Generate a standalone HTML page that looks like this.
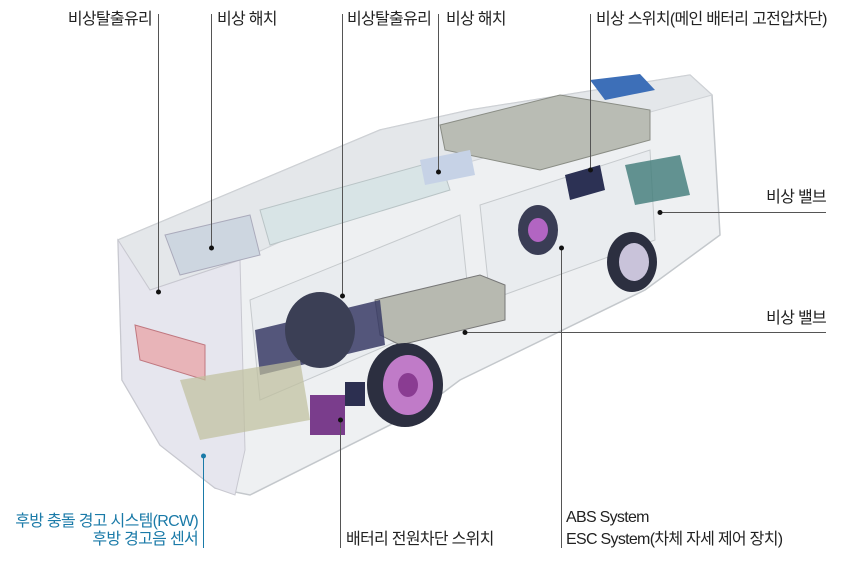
<!DOCTYPE html>
<html><head><meta charset="utf-8"><style>
html,body{margin:0;padding:0;background:#fff;}
#c{position:relative;width:850px;height:570px;overflow:hidden;font-family:"Liberation Sans","Noto Sans CJK KR",sans-serif;}
.t{position:absolute;font-size:16px;color:#222;white-space:nowrap;letter-spacing:-0.7px;line-height:18px;}
.b{color:#1a7aa8;}
</style></head><body><div id="c">
<svg width="850" height="570" style="position:absolute;left:0;top:0">
<polygon points="118,240 380,130 470,110 690,75 712,95 720,235 645,290 460,380 420,410 250,495 215,488 160,445 122,380" fill="#eef0f2" stroke="#c4c8cc" stroke-width="1.5"/>
<polygon points="118,240 380,130 470,110 690,75 712,95 440,170 240,260 150,290" fill="#e4e7ea" stroke="#cfd2d6"/>
<polygon points="118,240 150,290 240,260 245,450 235,495 215,488 160,445 122,380" fill="#e6e6ee" stroke="#c8c8d0"/>
<polygon points="250,300 460,215 470,310 260,400" fill="#e9ecef" stroke="#c6cacd"/>
<polygon points="480,205 650,150 655,240 490,300" fill="#e9ecef" stroke="#c6cacd"/>
<polygon points="440,125 560,95 650,110 650,140 540,170 445,150" fill="#b9bcb4" stroke="#8a8d85"/>
<polygon points="590,80 640,74 655,90 605,100" fill="#3d6fb8"/>
<polygon points="165,235 250,215 260,255 180,275" fill="#cdd6e0" stroke="#aab"/>
<polygon points="260,210 440,160 450,190 270,245" fill="#d8e4e6" stroke="#b9c4c6"/>
<polygon points="420,160 470,150 475,175 425,185" fill="#c6d2e6"/>
<polygon points="135,325 205,345 205,380 140,360" fill="#e8b4b8" stroke="#c07880"/>
<polygon points="375,300 480,275 505,285 505,320 400,345 380,335" fill="#b7b9b0" stroke="#777"/>
<polygon points="255,330 380,300 385,345 260,375" fill="#3a3c66" opacity="0.85"/>
<ellipse cx="320" cy="330" rx="35" ry="38" fill="#3b3f55"/>
<ellipse cx="405" cy="385" rx="38" ry="42" fill="#2c2f40"/>
<ellipse cx="408" cy="385" rx="25" ry="30" fill="#c07bc8"/>
<ellipse cx="408" cy="385" rx="10" ry="12" fill="#8a3c92"/>
<ellipse cx="632" cy="262" rx="25" ry="30" fill="#2c2f40"/>
<ellipse cx="634" cy="262" rx="15" ry="19" fill="#c9c3da"/>
<ellipse cx="538" cy="230" rx="20" ry="25" fill="#3a3d55"/>
<ellipse cx="538" cy="230" rx="10" ry="12" fill="#b265c2"/>
<polygon points="565,175 600,165 605,190 570,200" fill="#2c3154"/>
<polygon points="625,165 680,155 690,195 635,205" fill="#3f7b78" opacity="0.8"/>
<polygon points="180,380 300,360 310,420 200,440" fill="#bfbf9c" opacity="0.7"/>
<rect x="310" y="395" width="35" height="40" fill="#7a3d8c"/>
<rect x="345" y="382" width="20" height="24" fill="#2c2f50"/>
<g stroke="#555" stroke-width="1" fill="none">
<line x1="158.5" y1="14" x2="158.5" y2="292"/>
<line x1="211.5" y1="14" x2="211.5" y2="248"/>
<line x1="342.5" y1="14" x2="342.5" y2="296"/>
<line x1="438.5" y1="14" x2="438.5" y2="172"/>
<line x1="590.5" y1="14" x2="590.5" y2="170"/>
<line x1="660" y1="212.5" x2="826" y2="212.5"/>
<line x1="465" y1="332.5" x2="826" y2="332.5"/>
<line x1="340.5" y1="420" x2="340.5" y2="548"/>
<line x1="561.5" y1="248" x2="561.5" y2="548"/>
</g>
<line x1="203.5" y1="456" x2="203.5" y2="548" stroke="#1a7aa8"/>
<g fill="#111">
<circle cx="158.5" cy="292" r="2.5"/><circle cx="211.5" cy="248" r="2.5"/>
<circle cx="342.5" cy="296" r="2.5"/><circle cx="438.5" cy="172" r="2.5"/>
<circle cx="590.5" cy="170" r="2.5"/><circle cx="660" cy="212.5" r="2.5"/>
<circle cx="465" cy="332.5" r="2.5"/><circle cx="340.5" cy="420" r="2.5"/>
<circle cx="561.5" cy="248" r="2.5"/>
</g>
<circle cx="203.5" cy="456" r="2.5" fill="#1a7aa8"/>
</svg>
<div class="t" style="right:698px;top:11px">비상탈출유리</div>
<div class="t" style="left:217px;top:11px">비상 해치</div>
<div class="t" style="left:347px;top:11px">비상탈출유리</div>
<div class="t" style="left:446px;top:11px">비상 해치</div>
<div class="t" style="left:596px;top:11px">비상 스위치(메인 배터리 고전압차단)</div>
<div class="t" style="right:24px;top:189px">비상 밸브</div>
<div class="t" style="right:24px;top:310px">비상 밸브</div>
<div class="t b" style="right:652px;top:513px;text-align:right">후방 충돌 경고 시스템(RCW)</div>
<div class="t b" style="right:652px;top:531px;text-align:right">후방 경고음 센서</div>
<div class="t" style="left:346px;top:531px">배터리 전원차단 스위치</div>
<div class="t" style="left:566px;top:509px">ABS System</div>
<div class="t" style="left:566px;top:531px">ESC System(차체 자세 제어 장치)</div>
</div></body></html>
